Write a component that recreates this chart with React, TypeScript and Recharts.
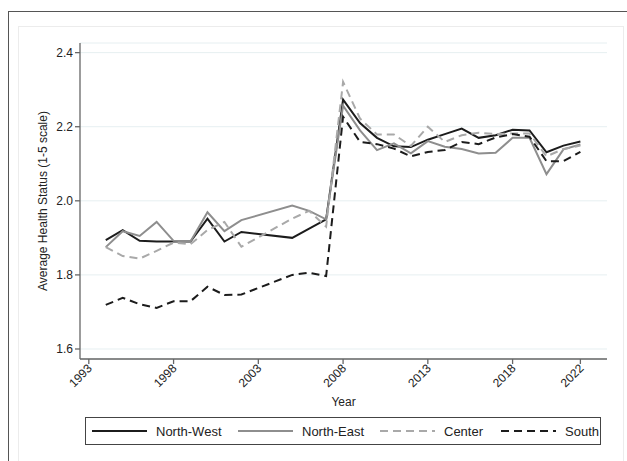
import React from "react";
import { LineChart, Line, XAxis, YAxis, CartesianGrid } from "recharts";

// Average self-rated health by macro area, 1994-2022 (2003 and 2004 not surveyed)
const years = [1994, 1995, 1996, 1997, 1998, 1999, 2000, 2001, 2002, 2005, 2006, 2007, 2008, 2009, 2010, 2011, 2012, 2013, 2014, 2015, 2016, 2017, 2018, 2019, 2020, 2021, 2022];

const northWest = [1.894, 1.921, 1.892, 1.89, 1.89, 1.89, 1.952, 1.89, 1.916, 1.9, 1.925, 1.95, 2.273, 2.21, 2.17, 2.147, 2.145, 2.165, 2.18, 2.195, 2.17, 2.177, 2.192, 2.19, 2.131, 2.149, 2.16];
const northEast = [1.875, 1.918, 1.905, 1.943, 1.892, 1.89, 1.969, 1.918, 1.948, 1.987, 1.973, 1.95, 2.257, 2.19, 2.137, 2.155, 2.128, 2.161, 2.146, 2.14, 2.128, 2.13, 2.17, 2.17, 2.072, 2.139, 2.152];
const center = [1.875, 1.851, 1.844, 1.865, 1.887, 1.883, 1.921, 1.943, 1.876, 1.952, 1.973, 1.93, 2.321, 2.222, 2.179, 2.179, 2.148, 2.2, 2.159, 2.177, 2.184, 2.18, 2.182, 2.182, 2.12, 2.14, 2.149];
const south = [1.719, 1.738, 1.721, 1.711, 1.729, 1.729, 1.768, 1.746, 1.747, 1.8, 1.806, 1.797, 2.227, 2.159, 2.153, 2.141, 2.12, 2.132, 2.137, 2.159, 2.153, 2.171, 2.18, 2.173, 2.107, 2.107, 2.132];

const xTicks = [1993, 1998, 2003, 2008, 2013, 2018, 2022];
const yTicks = [1.6, 1.8, 2.0, 2.2, 2.4];

const series = [
  { key: "nw", name: "North-West", color: "#1c1c1c", dash: undefined, legendX: 6 },
  { key: "ne", name: "North-East", color: "#8e8e8e", dash: undefined, legendX: 152 },
  { key: "ce", name: "Center", color: "#a9a9a9", dash: "8 5", legendX: 294 },
  { key: "so", name: "South", color: "#1c1c1c", dash: "8 5", legendX: 415 },
];

const data = years.map((year, i) => ({
  year,
  nw: northWest[i],
  ne: northEast[i],
  ce: center[i],
  so: south[i],
}));

const FONT = "'Liberation Sans', Arial, Helvetica, sans-serif";

function YearTick(props: any) {
  const { x, y, payload } = props;
  return (
    <text
      x={x + 4}
      y={y + 3}
      transform={`rotate(-45 ${x + 4} ${y + 3})`}
      textAnchor="end"
      fontSize={12}
      fontFamily={FONT}
      fill="#222"
    >
      {payload.value}
    </text>
  );
}

export default function App() {
  return (
    <div style={{ position: "relative", width: 627, height: 461, background: "#fff", fontFamily: FONT }}>
      <style>{"body{margin:0}"}</style>
      {/* outer frame */}
      <div style={{ position: "absolute", left: 8, top: 11, right: 0, bottom: 0, borderTop: "1.5px solid #555", borderLeft: "1.5px solid #555" }} />
      <div style={{ position: "absolute", left: 18, top: 26, width: 604, height: 440, border: "1px solid #ececec" }} />
      <div style={{ position: "absolute", left: 0, top: 0 }}>
        <LineChart width={627} height={461} data={data} margin={{ top: 43, right: 20, bottom: 52, left: 0 }}>
          <CartesianGrid vertical={false} stroke="#e6eff1" strokeWidth={1} />
          <XAxis
            dataKey="year"
            type="number"
            domain={[1992.48, 2023.57]}
            ticks={xTicks}
            allowDataOverflow
            height={50}
            tick={<YearTick />}
            tickSize={5}
            stroke="#666"
            strokeWidth={1.3}
            label={{ value: "Year", position: "insideBottom", offset: 3, fontSize: 12, fill: "#222", fontFamily: FONT }}
          />
          <YAxis
            type="number"
            domain={[1.573, 2.426]}
            ticks={yTicks}
            allowDataOverflow
            width={80}
            tickSize={5}
            stroke="#666"
            strokeWidth={1.3}
            tickFormatter={(v: number) => v.toFixed(1)}
            tick={{ fontSize: 12, fill: "#222", fontFamily: FONT }}
            label={{
              value: "Average Health Status (1-5 scale)",
              angle: -90,
              position: "insideLeft",
              offset: 43,
              fontSize: 12,
              fill: "#222",
              fontFamily: FONT,
              style: { textAnchor: "middle" },
            }}
          />
          {series.map((s) => (
            <Line
              key={s.key}
              dataKey={s.key}
              name={s.name}
              type="linear"
              stroke={s.color}
              strokeWidth={2}
              strokeDasharray={s.dash}
              dot={false}
              activeDot={false}
              isAnimationActive={false}
            />
          ))}
        </LineChart>
      </div>
      {/* legend */}
      <div
        style={{
          position: "absolute",
          left: 85,
          top: 417,
          width: 514,
          height: 26,
          border: "1.3px solid #444",
          fontSize: 13,
          color: "#222",
        }}
      >
        {series.map((s) => (
          <div key={s.key} style={{ position: "absolute", left: s.legendX, top: 0, height: 26, display: "flex", alignItems: "center" }}>
            <svg width={55} height={6} style={{ marginRight: 9 }}>
              <line x1={0} y1={3} x2={55} y2={3} stroke={s.color} strokeWidth={2} strokeDasharray={s.dash} />
            </svg>
            <span>{s.name}</span>
          </div>
        ))}
      </div>
    </div>
  );
}
